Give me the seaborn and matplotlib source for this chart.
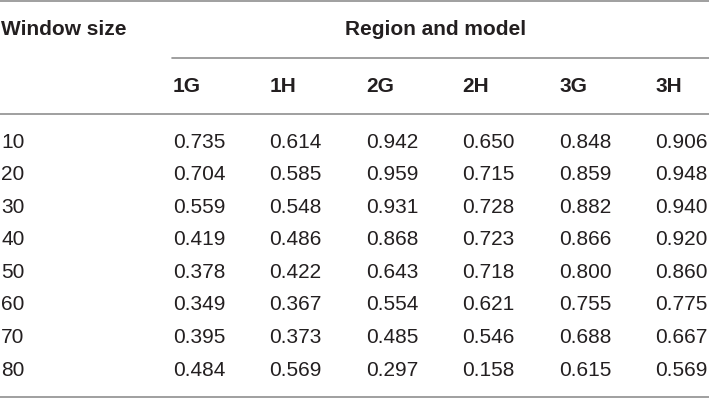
import numpy as np
import pandas as pd
import matplotlib
matplotlib.use("Agg")
import matplotlib.pyplot as plt
import seaborn as sns

# table contents
window_sizes = [10, 20, 30, 40, 50, 60, 70, 80]
models = ["1G", "1H", "2G", "2H", "3G", "3H"]
col_1G = [0.735, 0.704, 0.559, 0.419, 0.378, 0.349, 0.395, 0.484]
col_1H = [0.614, 0.585, 0.548, 0.486, 0.422, 0.367, 0.373, 0.569]
col_2G = [0.942, 0.959, 0.931, 0.868, 0.643, 0.554, 0.485, 0.297]
col_2H = [0.650, 0.715, 0.728, 0.723, 0.718, 0.621, 0.546, 0.158]
col_3G = [0.848, 0.859, 0.882, 0.866, 0.800, 0.755, 0.688, 0.615]
col_3H = [0.906, 0.948, 0.940, 0.920, 0.860, 0.775, 0.667, 0.569]

table = pd.DataFrame({"1G": col_1G, "1H": col_1H, "2G": col_2G,
                      "2H": col_2H, "3G": col_3G, "3H": col_3H},
                     index=window_sizes)

sns.set_theme(style="white")
plt.rcParams['font.family'] = ['Liberation Sans', 'DejaVu Sans']

W, H = 709, 400
fig = plt.figure(figsize=(W / 100, H / 100), dpi=100)
ax = fig.add_axes([0, 0, 1, 1])
ax.set_xlim(0, W)
ax.set_ylim(H, 0)
ax.axis("off")

txt_col = "#231f20"
rule_col = "#8f8f8f"
fs = 15

# layout
x_label = 1
x_first = 173
dx = 96.5
y_first = 147.5
dy = 32.6

# rules
ax.axhline(0.8, color=rule_col, lw=1.2)
ax.plot([x_first - 1, W], [57.5, 57.5], color=rule_col, lw=1.2)
ax.axhline(114, color=rule_col, lw=1.2)
ax.axhline(396.5, color=rule_col, lw=1.2)

# headers
ax.text(x_label, 35, "Window size", fontsize=fs, fontweight="bold",
        color=txt_col, ha="left", va="baseline")
ax.text(x_first + dx * 2.5 + 21, 35, "Region and model", fontsize=fs,
        fontweight="bold", color=txt_col, ha="center", va="baseline")
for j, m in enumerate(models):
    ax.text(x_first + dx * j, 91.5, m, fontsize=fs, fontweight="bold",
            color=txt_col, ha="left", va="baseline")

# body
for i, w in enumerate(table.index):
    y = y_first + dy * i
    ax.text(x_label, y, str(w), fontsize=fs, color=txt_col,
            ha="left", va="baseline")
    for j, m in enumerate(models):
        ax.text(x_first + dx * j, y, f"{table.loc[w, m]:.3f}", fontsize=fs,
                color=txt_col, ha="left", va="baseline")

fig.savefig("out.png", dpi=100)
